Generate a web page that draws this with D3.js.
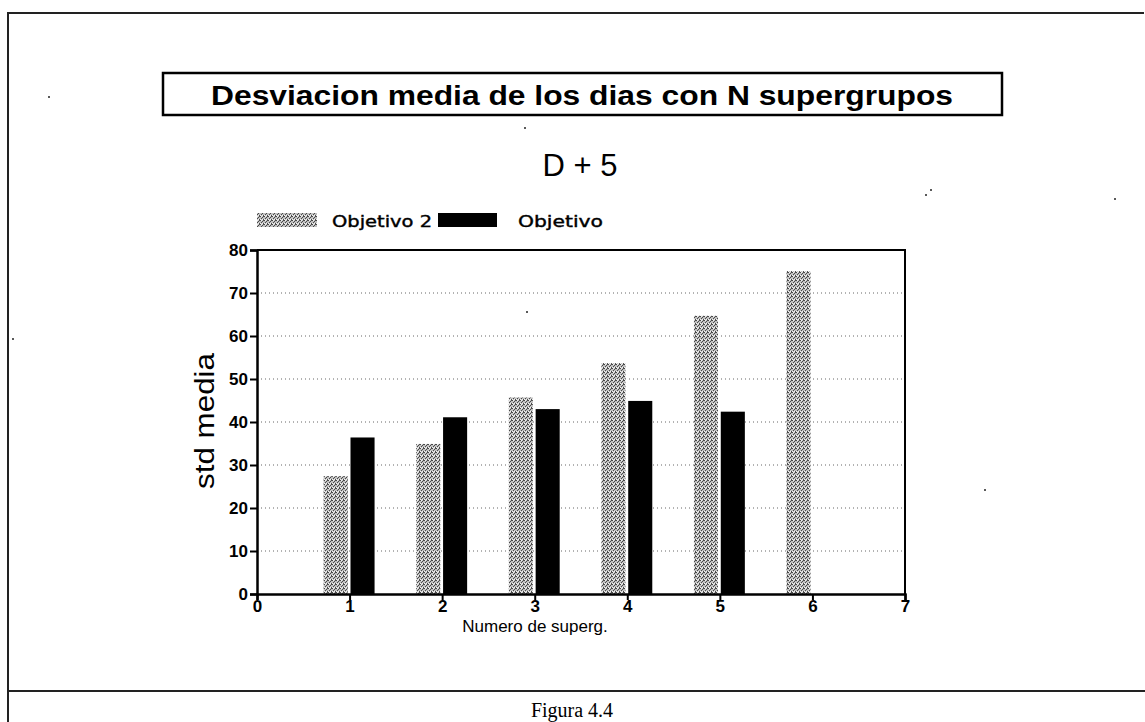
<!DOCTYPE html>
<html>
<head>
<meta charset="utf-8">
<script src="https://cdn.jsdelivr.net/npm/d3@7"></script>
<style>
  html, body { margin: 0; padding: 0; background: #fff; }
  svg { display: block; }
</style>
</head>
<body>
<svg id="chart" width="1145" height="722"></svg>
<script>
// Mean deviation per number of supergroups (D + 5)
const groups = [1, 2, 3, 4, 5, 6];
const objetivo2 = [27.4, 34.9, 45.7, 53.7, 64.7, 75.1];
const objetivo = [36.4, 41.1, 43.0, 44.9, 42.4, null];
const seriesNames = ["Objetivo 2", "Objetivo"];
const xTicks = [0, 1, 2, 3, 4, 5, 6, 7];
const yTicks = [0, 10, 20, 30, 40, 50, 60, 70, 80];
const gridTicks = [10, 20, 30, 40, 50, 60, 70];

const svg = d3.select("#chart");
const sans = "'Liberation Sans', Arial, sans-serif";

// stippled fill for the "Objetivo 2" bars
const defs = svg.append("defs");
const pat = defs.append("pattern")
  .attr("id", "stipple").attr("patternUnits", "userSpaceOnUse")
  .attr("width", 4).attr("height", 4);
pat.append("rect").attr("width", 4).attr("height", 4).attr("fill", "#c0c0c0");
[[0,0],[2,1],[1,2],[3,3],[3,0]].forEach(([px, py]) =>
  pat.append("rect").attr("x", px).attr("y", py).attr("width", 1).attr("height", 1).attr("fill", "#4a4a4a"));
[[1,0],[0,3],[2,3]].forEach(([px, py]) =>
  pat.append("rect").attr("x", px).attr("y", py).attr("width", 1).attr("height", 1).attr("fill", "#f0f0f0"));

// page frame
svg.append("path")
  .attr("d", "M8,722 V13 H1144")
  .attr("fill", "none").attr("stroke", "#222").attr("stroke-width", 2);
svg.append("line").attr("x1", 8).attr("x2", 1145).attr("y1", 691).attr("y2", 691)
  .attr("stroke", "#222").attr("stroke-width", 2);
svg.append("text").attr("x", 572).attr("y", 717).attr("text-anchor", "middle")
  .attr("font-family", "'Liberation Serif', 'Times New Roman', serif").attr("font-size", 20)
  .text("Figura 4.4");

// title box
svg.append("rect").attr("x", 163).attr("y", 73).attr("width", 839).attr("height", 42)
  .attr("fill", "none").attr("stroke", "#000").attr("stroke-width", 2.5);
svg.append("text").attr("x", 582).attr("y", 105).attr("text-anchor", "middle")
  .attr("font-family", sans).attr("font-weight", "bold").attr("font-size", 27)
  .attr("textLength", 742).attr("lengthAdjust", "spacingAndGlyphs")
  .text("Desviacion media de los dias con N supergrupos");

svg.append("text").attr("x", 580).attr("y", 176).attr("text-anchor", "middle")
  .attr("font-family", sans).attr("font-size", 31)
  .text("D + 5");

// scales
const x = d3.scaleLinear().domain([0, 7]).range([257, 905]);
const y = d3.scaleLinear().domain([0, 80]).range([594, 250]);
const barW = 0.26;

// legend
const legend = svg.append("g").attr("font-family", "'DejaVu Sans', sans-serif")
  .attr("font-size", 16).attr("stroke", "#000").attr("stroke-width", 0.4);
legend.append("rect").attr("x", 257).attr("y", 213).attr("width", 60).attr("height", 14)
  .attr("fill", "url(#stipple)").attr("stroke", "none");
legend.append("text").attr("x", 332).attr("y", 227).attr("textLength", 100)
  .attr("lengthAdjust", "spacingAndGlyphs").text(seriesNames[0]);
legend.append("rect").attr("x", 438).attr("y", 213).attr("width", 59).attr("height", 14)
  .attr("fill", "#000").attr("stroke", "none");
legend.append("text").attr("x", 518).attr("y", 227).attr("textLength", 85)
  .attr("lengthAdjust", "spacingAndGlyphs").text(seriesNames[1]);

// dotted grid
svg.append("g").selectAll("line").data(gridTicks).join("line")
  .attr("x1", x(0)).attr("x2", x(7))
  .attr("y1", d => y(d)).attr("y2", d => y(d))
  .attr("stroke", "#666").attr("stroke-width", 1).attr("stroke-dasharray", "1,3");

// bars
svg.append("g").selectAll("rect").data(groups).join("rect")
  .attr("x", (g) => x(g - 0.28))
  .attr("width", x(barW) - x(0))
  .attr("y", (g, i) => y(objetivo2[i]))
  .attr("height", (g, i) => y(0) - y(objetivo2[i]))
  .attr("fill", "url(#stipple)");
svg.append("g").selectAll("rect").data(groups.filter((g, i) => objetivo[i] != null)).join("rect")
  .attr("x", (g) => x(g + 0.01))
  .attr("width", x(barW) - x(0))
  .attr("y", (g) => y(objetivo[g - 1]))
  .attr("height", (g) => y(0) - y(objetivo[g - 1]))
  .attr("fill", "#000");

// plot frame (top and right)
svg.append("path")
  .attr("d", `M${x(0)},${y(80)} H${x(7)} V${y(0)}`)
  .attr("fill", "none").attr("stroke", "#000").attr("stroke-width", 2);

// axes
const yAxis = svg.append("g").attr("transform", `translate(${x(0)},0)`)
  .call(d3.axisLeft(y).tickValues(yTicks).tickSize(7).tickPadding(2).tickFormat(d3.format("d")));
const xAxis = svg.append("g").attr("transform", `translate(0,${y(0)})`)
  .call(d3.axisBottom(x).tickValues(xTicks).tickSize(6).tickPadding(0).tickFormat(d3.format("d")));
[yAxis, xAxis].forEach(a => {
  a.select(".domain").attr("stroke", "#000").attr("stroke-width", 2.5);
  a.selectAll(".tick line").attr("stroke", "#000").attr("stroke-width", 2);
  a.selectAll(".tick text").attr("fill", "#000").attr("font-family", sans)
    .attr("font-weight", "bold").attr("font-size", 17);
});

// axis titles
svg.append("text").attr("x", 535).attr("y", 632).attr("text-anchor", "middle")
  .attr("font-family", sans).attr("font-size", 17)
  .text("Numero de superg.");
svg.append("text").attr("transform", "translate(214,421) rotate(-90)")
  .attr("text-anchor", "middle").attr("font-family", sans).attr("font-size", 27)
  .attr("textLength", 136).attr("lengthAdjust", "spacingAndGlyphs")
  .text("std media");

// scan specks
const specks = [[49, 97], [13, 339], [926, 195], [931, 190], [1115, 199], [985, 490], [525, 128], [527, 312]];
svg.append("g").selectAll("circle").data(specks).join("circle")
  .attr("cx", d => d[0]).attr("cy", d => d[1]).attr("r", 1).attr("fill", "#222");
</script>
</body>
</html>
